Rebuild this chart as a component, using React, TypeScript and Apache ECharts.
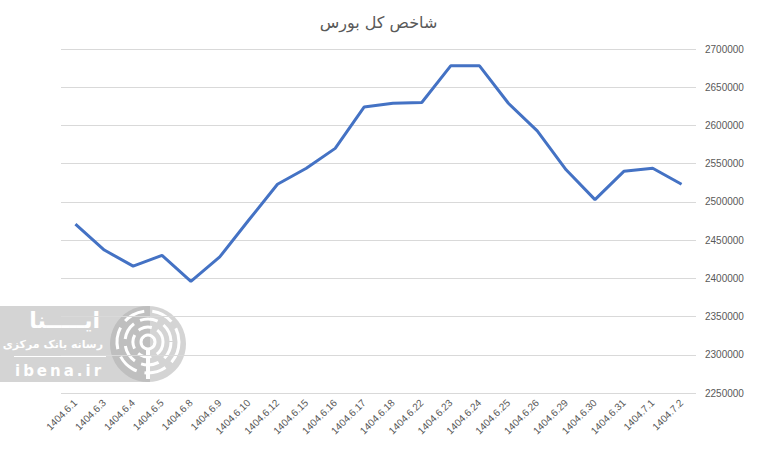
import React, { useEffect, useRef } from "react";
import * as echarts from "echarts";

const categories = [
  "1404.6.1", "1404.6.3", "1404.6.4", "1404.6.5", "1404.6.8", "1404.6.9",
  "1404.6.10", "1404.6.12", "1404.6.15", "1404.6.16", "1404.6.17", "1404.6.18",
  "1404.6.22", "1404.6.23", "1404.6.24", "1404.6.25", "1404.6.26", "1404.6.29",
  "1404.6.30", "1404.6.31", "1404.7.1", "1404.7.2",
];
const indexValues = [
  2471000, 2437000, 2416000, 2430000, 2396000, 2428000,
  2476000, 2523000, 2544000, 2570000, 2624000, 2629000,
  2630000, 2678000, 2678000, 2629000, 2593000, 2542000,
  2503000, 2540000, 2544000, 2523000,
];
const title = "شاخص کل بورس";
const yMin = 2250000;
const yMax = 2700000;
const yStep = 50000;

export default function App() {
  const ref = useRef<HTMLDivElement>(null);
  useEffect(() => {
    const chart = echarts.init(ref.current!, null, { renderer: "svg" });
    const labelFont = "'Liberation Sans', sans-serif";
    const wm = "rgba(170,170,170,0.5)";
    chart.setOption({
      animation: false,
      backgroundColor: "#ffffff",
      title: {
        text: title,
        left: "center",
        top: 9,
        textStyle: { color: "#595959", fontSize: 16, fontWeight: "normal", fontFamily: "'DejaVu Sans', sans-serif" },
      },
      grid: { left: 61, right: 61, top: 49, bottom: 61 },
      xAxis: {
        type: "category",
        data: categories,
        boundaryGap: true,
        axisLine: { show: false },
        axisTick: { show: false },
        axisLabel: {
          rotate: 45,
          interval: 0,
          color: "#595959",
          fontSize: 10,
          fontFamily: labelFont,
          margin: 8,
        },
      },
      yAxis: {
        type: "value",
        position: "right",
        min: yMin,
        max: yMax,
        interval: yStep,
        axisLine: { show: false },
        axisTick: { show: false },
        splitLine: { lineStyle: { color: "#d9d9d9", width: 1 } },
        axisLabel: {
          color: "#595959",
          fontSize: 10,
          fontFamily: labelFont,
          margin: 9,
          formatter: (v: number) => String(v),
        },
      },
      series: [
        {
          type: "line",
          data: indexValues,
          symbol: "none",
          lineStyle: { color: "#4472c4", width: 3 },
        },
      ],
      graphic: [
        {
          type: "group",
          left: 0,
          top: 306,
          children: [
            { type: "rect", shape: { x: 0, y: 4, width: 150, height: 76 }, style: { fill: wm } },
            { type: "circle", shape: { cx: 148, cy: 42, r: 38 }, style: { fill: wm } },
            { type: "circle", shape: { cx: 148, cy: 40, r: 7 }, style: { fill: "none", stroke: "#fff", lineWidth: 3 } },
            { type: "rect", shape: { x: 146, y: 47, width: 4, height: 30 }, style: { fill: "#fff" } },
            { type: "arc", shape: { cx: 148, cy: 40, r: 15, startAngle: 0, endAngle: Math.PI * 2 }, style: { stroke: "#fff", lineWidth: 3, lineDash: [14, 6], fill: "none" } },
            { type: "arc", shape: { cx: 148, cy: 40, r: 23, startAngle: 0, endAngle: Math.PI * 2 }, style: { stroke: "#fff", lineWidth: 3, lineDash: [18, 7], fill: "none" } },
            { type: "arc", shape: { cx: 148, cy: 40, r: 31, startAngle: 0, endAngle: Math.PI * 2 }, style: { stroke: "#fff", lineWidth: 3, lineDash: [22, 8], fill: "none" } },
            { type: "text", style: { x: 100, y: 18, text: "ایـــــنا", fill: "#fff", font: "bold 22px 'DejaVu Sans', sans-serif", textAlign: "right", textVerticalAlign: "middle" } },
            { type: "text", style: { x: 103, y: 42, text: "رسانه بانک مرکزی", fill: "#fff", font: "bold 11px 'DejaVu Sans', sans-serif", textAlign: "right", textVerticalAlign: "middle" } },
            { type: "rect", shape: { x: 14, y: 54, width: 92, height: 1 }, style: { fill: "#fff" } },
            { type: "text", style: { x: 15, y: 69, text: "i\u2009b\u2009e\u2009n\u2009a\u2009.\u2009i\u2009r", fill: "#fff", font: "bold 15px 'DejaVu Sans', sans-serif", textAlign: "left", textVerticalAlign: "middle" } },
          ],
        },
      ],
    });
    return () => chart.dispose();
  }, []);
  return <div ref={ref} style={{ position: "fixed", left: 0, top: 0, width: 757, height: 454 }} />;
}
